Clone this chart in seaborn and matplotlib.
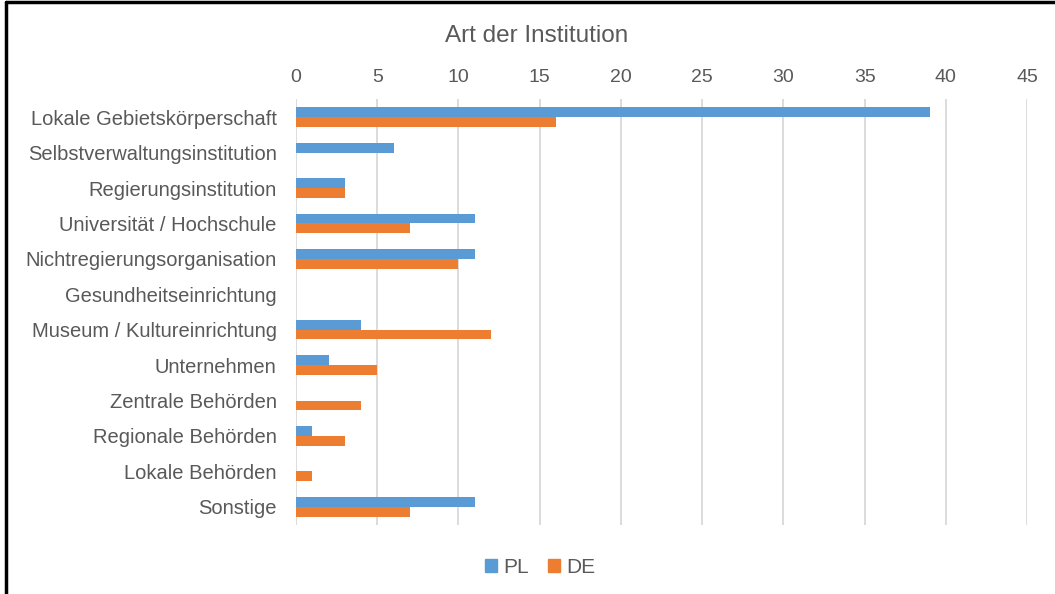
import matplotlib
matplotlib.use("Agg")
import matplotlib.pyplot as plt
import numpy as np
import pandas as pd
import seaborn as sns
from matplotlib.lines import Line2D

categories = [
    "Lokale Gebietskörperschaft",
    "Selbstverwaltungsinstitution",
    "Regierungsinstitution",
    "Universität / Hochschule",
    "Nichtregierungsorganisation",
    "Gesundheitseinrichtung",
    "Museum / Kultureinrichtung",
    "Unternehmen",
    "Zentrale Behörden",
    "Regionale Behörden",
    "Lokale Behörden",
    "Sonstige",
]
pl_values = [39, 6, 3, 11, 11, 0, 4, 2, 0, 1, 0, 11]
de_values = [16, 0, 3, 7, 10, 0, 12, 5, 4, 3, 1, 7]
series = ["PL", "DE"]
x_ticks = [0, 5, 10, 15, 20, 25, 30, 35, 40, 45]

COLORS = {"PL": "#5B9BD5", "DE": "#ED7D31"}
TEXT = "#595959"

df = pd.DataFrame({
    "Institution": categories * 2,
    "Land": ["PL"] * len(categories) + ["DE"] * len(categories),
    "Anzahl": pl_values + de_values,
})

sns.set_style("white")
plt.rcParams["font.family"] = ["Liberation Sans", "DejaVu Sans"]

fig = plt.figure(figsize=(10.55, 5.94), dpi=100)
ax = fig.add_axes([0.2806, 0.117, 0.6929, 0.7155])

sns.barplot(
    data=df, y="Institution", x="Anzahl", hue="Land",
    order=categories, hue_order=series, palette=COLORS,
    orient="h", width=0.55, saturation=1, linewidth=0,
    ax=ax, legend=False,
)

ax.set_xlim(0, 45)
ax.set_xticks(x_ticks)
ax.xaxis.tick_top()
ax.tick_params(axis="x", length=0, pad=10, labelsize=14, labelcolor=TEXT)
ax.tick_params(axis="y", length=0, pad=14, labelsize=14.5, labelcolor=TEXT)
ax.set_xlabel("")
ax.set_ylabel("")
ax.grid(axis="x", color="#D9D9D9", lw=1.3)
ax.set_axisbelow(True)
for s in ax.spines.values():
    s.set_visible(False)

fig.text(0.509, 0.94, "Art der Institution", ha="center", va="center",
         fontsize=17.5, color=TEXT)

handles = [plt.Rectangle((0, 0), 1, 1, color=COLORS[s]) for s in series]
fig.legend(handles, series, loc="center", bbox_to_anchor=(0.512, 0.045),
           ncol=2, frameon=False, fontsize=15, labelcolor=TEXT,
           handlelength=0.6, handleheight=0.6, handletextpad=0.3,
           columnspacing=0.9)

# Rahmen links und oben
fig.add_artist(Line2D([0.0057, 0.0057], [0, 0.997], color="black", lw=2.5,
                      transform=fig.transFigure))
fig.add_artist(Line2D([0.0057, 1], [0.997, 0.997], color="black", lw=2.5,
                      transform=fig.transFigure))

fig.savefig("out.png", dpi=100)
